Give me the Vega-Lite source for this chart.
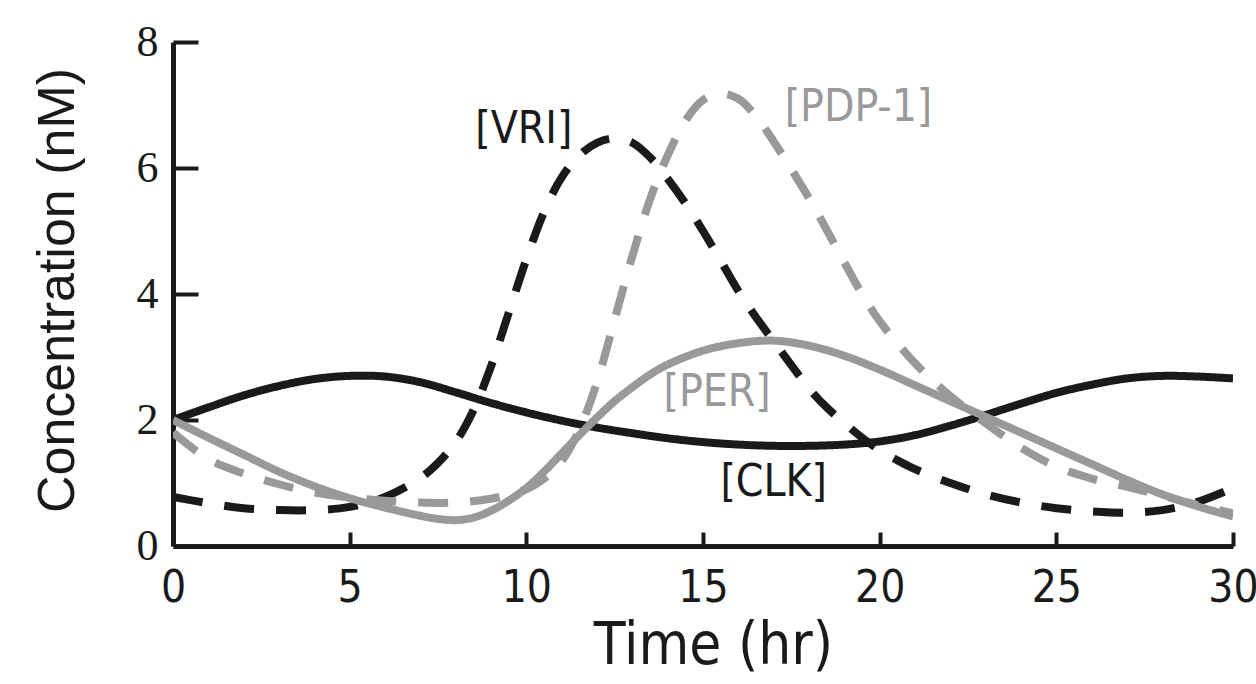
{
  "$schema": "https://vega.github.io/schema/vega-lite/v6.json",
  "autosize": "none",
  "width": 1060,
  "height": 504,
  "padding": {"left": 173, "top": 42, "right": 23, "bottom": 138},
  "background": "white",
  "config": {"view": {"stroke": null}},
  "datasets": {
    "curves": [
      {"series": "CLK", "t": 0, "c": 2.0}, {"series": "CLK", "t": 1, "c": 2.2}, {"series": "CLK", "t": 2, "c": 2.39}, {"series": "CLK", "t": 3, "c": 2.54}, {"series": "CLK", "t": 4, "c": 2.65}, {"series": "CLK", "t": 5, "c": 2.7}, {"series": "CLK", "t": 6, "c": 2.69}, {"series": "CLK", "t": 7, "c": 2.6}, {"series": "CLK", "t": 8, "c": 2.44}, {"series": "CLK", "t": 9, "c": 2.27}, {"series": "CLK", "t": 10, "c": 2.12}, {"series": "CLK", "t": 11, "c": 1.99}, {"series": "CLK", "t": 12, "c": 1.88}, {"series": "CLK", "t": 13, "c": 1.79}, {"series": "CLK", "t": 14, "c": 1.71}, {"series": "CLK", "t": 15, "c": 1.65}, {"series": "CLK", "t": 16, "c": 1.61}, {"series": "CLK", "t": 17, "c": 1.59}, {"series": "CLK", "t": 18, "c": 1.59}, {"series": "CLK", "t": 19, "c": 1.61}, {"series": "CLK", "t": 20, "c": 1.66}, {"series": "CLK", "t": 21, "c": 1.76}, {"series": "CLK", "t": 22, "c": 1.91}, {"series": "CLK", "t": 23, "c": 2.08}, {"series": "CLK", "t": 24, "c": 2.26}, {"series": "CLK", "t": 25, "c": 2.43}, {"series": "CLK", "t": 26, "c": 2.56}, {"series": "CLK", "t": 27, "c": 2.66}, {"series": "CLK", "t": 28, "c": 2.7}, {"series": "CLK", "t": 29, "c": 2.69}, {"series": "CLK", "t": 30, "c": 2.66},

      {"series": "VRI", "t": 0, "c": 0.78}, {"series": "VRI", "t": 1, "c": 0.68}, {"series": "VRI", "t": 2, "c": 0.6}, {"series": "VRI", "t": 3, "c": 0.57}, {"series": "VRI", "t": 4, "c": 0.57}, {"series": "VRI", "t": 5, "c": 0.62}, {"series": "VRI", "t": 6, "c": 0.78}, {"series": "VRI", "t": 7, "c": 1.08}, {"series": "VRI", "t": 7.5, "c": 1.32}, {"series": "VRI", "t": 8, "c": 1.65}, {"series": "VRI", "t": 8.5, "c": 2.15}, {"series": "VRI", "t": 9, "c": 2.85}, {"series": "VRI", "t": 9.5, "c": 3.7}, {"series": "VRI", "t": 10, "c": 4.55}, {"series": "VRI", "t": 10.5, "c": 5.3}, {"series": "VRI", "t": 11, "c": 5.85}, {"series": "VRI", "t": 11.5, "c": 6.2}, {"series": "VRI", "t": 12, "c": 6.4}, {"series": "VRI", "t": 12.5, "c": 6.47}, {"series": "VRI", "t": 13, "c": 6.4}, {"series": "VRI", "t": 13.5, "c": 6.17}, {"series": "VRI", "t": 14, "c": 5.83}, {"series": "VRI", "t": 14.5, "c": 5.44}, {"series": "VRI", "t": 15, "c": 5.0}, {"series": "VRI", "t": 15.5, "c": 4.53}, {"series": "VRI", "t": 16, "c": 4.05}, {"series": "VRI", "t": 16.5, "c": 3.63}, {"series": "VRI", "t": 17, "c": 3.25}, {"series": "VRI", "t": 17.5, "c": 2.87}, {"series": "VRI", "t": 18, "c": 2.5}, {"series": "VRI", "t": 18.5, "c": 2.2}, {"series": "VRI", "t": 19, "c": 1.95}, {"series": "VRI", "t": 19.5, "c": 1.72}, {"series": "VRI", "t": 20, "c": 1.52}, {"series": "VRI", "t": 20.5, "c": 1.36}, {"series": "VRI", "t": 21, "c": 1.22}, {"series": "VRI", "t": 22, "c": 1.0}, {"series": "VRI", "t": 23, "c": 0.82}, {"series": "VRI", "t": 24, "c": 0.69}, {"series": "VRI", "t": 25, "c": 0.6}, {"series": "VRI", "t": 26, "c": 0.55}, {"series": "VRI", "t": 27, "c": 0.53}, {"series": "VRI", "t": 28, "c": 0.57}, {"series": "VRI", "t": 29, "c": 0.7}, {"series": "VRI", "t": 30, "c": 0.92},

      {"series": "PER", "t": 0, "c": 2.0}, {"series": "PER", "t": 1, "c": 1.72}, {"series": "PER", "t": 2, "c": 1.45}, {"series": "PER", "t": 3, "c": 1.18}, {"series": "PER", "t": 4, "c": 0.95}, {"series": "PER", "t": 5, "c": 0.76}, {"series": "PER", "t": 6, "c": 0.61}, {"series": "PER", "t": 7, "c": 0.48}, {"series": "PER", "t": 7.5, "c": 0.43}, {"series": "PER", "t": 8, "c": 0.41}, {"series": "PER", "t": 8.5, "c": 0.45}, {"series": "PER", "t": 9, "c": 0.56}, {"series": "PER", "t": 9.5, "c": 0.72}, {"series": "PER", "t": 10, "c": 0.92}, {"series": "PER", "t": 10.5, "c": 1.18}, {"series": "PER", "t": 11, "c": 1.47}, {"series": "PER", "t": 11.5, "c": 1.76}, {"series": "PER", "t": 12, "c": 2.04}, {"series": "PER", "t": 12.5, "c": 2.3}, {"series": "PER", "t": 13, "c": 2.52}, {"series": "PER", "t": 13.5, "c": 2.72}, {"series": "PER", "t": 14, "c": 2.88}, {"series": "PER", "t": 15, "c": 3.1}, {"series": "PER", "t": 16, "c": 3.22}, {"series": "PER", "t": 17, "c": 3.26}, {"series": "PER", "t": 18, "c": 3.18}, {"series": "PER", "t": 19, "c": 3.02}, {"series": "PER", "t": 20, "c": 2.8}, {"series": "PER", "t": 21, "c": 2.55}, {"series": "PER", "t": 22, "c": 2.3}, {"series": "PER", "t": 23, "c": 2.05}, {"series": "PER", "t": 24, "c": 1.8}, {"series": "PER", "t": 25, "c": 1.55}, {"series": "PER", "t": 26, "c": 1.3}, {"series": "PER", "t": 27, "c": 1.05}, {"series": "PER", "t": 28, "c": 0.82}, {"series": "PER", "t": 29, "c": 0.63}, {"series": "PER", "t": 30, "c": 0.47},

      {"series": "PDP-1", "t": 0, "c": 1.8}, {"series": "PDP-1", "t": 1, "c": 1.38}, {"series": "PDP-1", "t": 2, "c": 1.15}, {"series": "PDP-1", "t": 3, "c": 0.98}, {"series": "PDP-1", "t": 4, "c": 0.85}, {"series": "PDP-1", "t": 5, "c": 0.77}, {"series": "PDP-1", "t": 6, "c": 0.72}, {"series": "PDP-1", "t": 7, "c": 0.69}, {"series": "PDP-1", "t": 8, "c": 0.69}, {"series": "PDP-1", "t": 9, "c": 0.75}, {"series": "PDP-1", "t": 10, "c": 0.9}, {"series": "PDP-1", "t": 10.5, "c": 1.07}, {"series": "PDP-1", "t": 11, "c": 1.35}, {"series": "PDP-1", "t": 11.5, "c": 1.85}, {"series": "PDP-1", "t": 12, "c": 2.6}, {"series": "PDP-1", "t": 12.5, "c": 3.6}, {"series": "PDP-1", "t": 13, "c": 4.6}, {"series": "PDP-1", "t": 13.5, "c": 5.5}, {"series": "PDP-1", "t": 14, "c": 6.2}, {"series": "PDP-1", "t": 14.5, "c": 6.75}, {"series": "PDP-1", "t": 15, "c": 7.08}, {"series": "PDP-1", "t": 15.5, "c": 7.18}, {"series": "PDP-1", "t": 16, "c": 7.1}, {"series": "PDP-1", "t": 16.5, "c": 6.82}, {"series": "PDP-1", "t": 17, "c": 6.42}, {"series": "PDP-1", "t": 17.5, "c": 5.98}, {"series": "PDP-1", "t": 18, "c": 5.52}, {"series": "PDP-1", "t": 18.5, "c": 5.02}, {"series": "PDP-1", "t": 19, "c": 4.5}, {"series": "PDP-1", "t": 19.5, "c": 4.0}, {"series": "PDP-1", "t": 20, "c": 3.57}, {"series": "PDP-1", "t": 21, "c": 2.9}, {"series": "PDP-1", "t": 22, "c": 2.38}, {"series": "PDP-1", "t": 23, "c": 1.95}, {"series": "PDP-1", "t": 24, "c": 1.56}, {"series": "PDP-1", "t": 25, "c": 1.26}, {"series": "PDP-1", "t": 26, "c": 1.07}, {"series": "PDP-1", "t": 27, "c": 0.94}, {"series": "PDP-1", "t": 28, "c": 0.8}, {"series": "PDP-1", "t": 29, "c": 0.65}, {"series": "PDP-1", "t": 30, "c": 0.52}
    ],
    "labels": [
      {"label": "[VRI]", "series": "VRI", "t": 9.93, "c": 6.6},
      {"label": "[PDP-1]", "series": "PDP-1", "t": 19.4, "c": 6.95},
      {"label": "[PER]", "series": "PER", "t": 15.4, "c": 2.43},
      {"label": "[CLK]", "series": "CLK", "t": 17.0, "c": 1.0}
    ]
  },
  "layer": [
    {
      "data": {"name": "curves"},
      "mark": {"type": "line", "interpolate": "catmull-rom", "strokeWidth": 8, "clip": true},
      "encoding": {
        "x": {
          "field": "t", "type": "quantitative",
          "scale": {"domain": [0, 30], "nice": false, "zero": false},
          "axis": {
            "title": "Time (hr)", "values": [0, 5, 10, 15, 20, 25, 30], "format": "d",
            "grid": false, "domainColor": "#1a1a1a", "domainWidth": 5,
            "tickColor": "#1a1a1a", "tickWidth": 4, "tickSize": -14,
            "labelFont": "DejaVu Sans Condensed, sans-serif",
            "labelFontSize": 44, "labelColor": "#1a1a1a", "labelPadding": 34,
            "labelFlush": false, "labelOverlap": false,
            "titleFont": "DejaVu Sans Condensed, sans-serif",
            "titleFontSize": 58, "titleFontWeight": "normal", "titleColor": "#1a1a1a",
            "titleX": 540, "titleY": 100, "titleAlign": "center", "titleBaseline": "middle"
          }
        },
        "y": {
          "field": "c", "type": "quantitative",
          "scale": {"domain": [0, 8], "nice": false},
          "axis": {
            "title": "Concentration (nM)", "values": [0, 2, 4, 6, 8], "format": "d",
            "grid": false, "domainColor": "#1a1a1a", "domainWidth": 5,
            "tickColor": "#1a1a1a", "tickWidth": 4, "tickSize": -25,
            "labelFont": "Liberation Serif, serif",
            "labelFontSize": 44, "labelColor": "#1a1a1a", "labelPadding": 40,
            "labelFlush": false, "labelOverlap": false,
            "titleFont": "Liberation Sans, sans-serif",
            "titleFontSize": 52, "titleFontWeight": "normal", "titleColor": "#1a1a1a",
            "titleX": -116, "titleY": 248, "titleAngle": -90, "titleAlign": "center", "titleBaseline": "middle"
          }
        },
        "detail": {"field": "series"},
        "color": {
          "field": "series", "type": "nominal", "legend": null,
          "scale": {"domain": ["CLK", "VRI", "PER", "PDP-1"], "range": ["#1a1a1a", "#1a1a1a", "#999999", "#999999"]}
        },
        "strokeDash": {
          "field": "series", "type": "nominal", "legend": null,
          "scale": {"domain": ["CLK", "VRI", "PER", "PDP-1"], "range": [[1, 0], [30, 22], [1, 0], [30, 22]]}
        },
        "order": {"field": "t", "type": "quantitative"}
      }
    },
    {
      "data": {"name": "labels"},
      "mark": {"type": "text", "font": "DejaVu Sans Condensed, sans-serif", "fontSize": 44, "align": "center", "baseline": "middle"},
      "encoding": {
        "x": {"field": "t", "type": "quantitative"},
        "y": {"field": "c", "type": "quantitative"},
        "text": {"field": "label"},
        "color": {"field": "series", "type": "nominal", "legend": null}
      }
    }
  ]
}
